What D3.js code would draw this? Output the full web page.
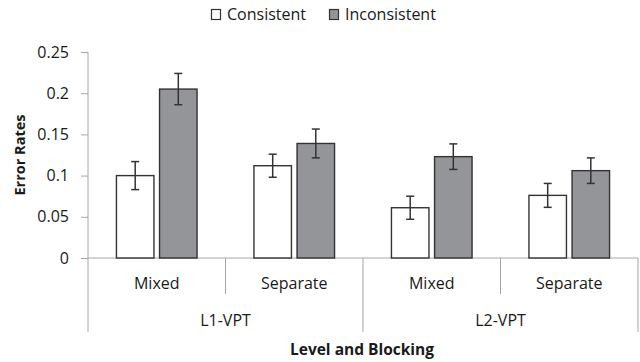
<!DOCTYPE html>
<html>
<head>
<meta charset="utf-8">
<script src="https://cdn.jsdelivr.net/npm/d3@7"></script>
<style>
  body { margin: 0; background: #fff; }
  text { font-family: "Open Sans", sans-serif; fill: #1a1a1a; }
</style>
</head>
<body>
<svg id="chart"></svg>
<script>
// Data

const levels = ["L1-VPT", "L2-VPT"];
const blockings = ["Mixed", "Separate"];
const series = ["Consistent", "Inconsistent"];

// values in order L1-Mixed, L1-Separate, L2-Mixed, L2-Separate
const consistentValues = [0.100, 0.112, 0.061, 0.076];
const inconsistentValues = [0.205, 0.139, 0.123, 0.106];
const consistentErrors = [0.017, 0.014, 0.014, 0.0145];
const inconsistentErrors = [0.019, 0.0175, 0.0155, 0.0155];

const yTicks = [0, 0.05, 0.1, 0.15, 0.2, 0.25];
const yTickLabels = ["0", "0.05", "0.1", "0.15", "0.2", "0.25"];

const seriesColor = { Consistent: "#ffffff", Inconsistent: "#939598" };

// Frame

const width = 640;
const height = 362;
const margin = { top: 52, left: 88, right: 2, bottom: 104 };
const axisColor = "#a6a6a6";
const inkColor = "#333333";

const svg = d3.select("#chart")
  .attr("width", width)
  .attr("height", height);

// Build the rows

const cells = [];
levels.forEach((lv, i) => {
  blockings.forEach((bl, j) => {
    const k = i * blockings.length + j;
    cells.push({
      key: lv + "|" + bl, level: lv, blocking: bl,
      values: [
        { s: "Consistent", v: consistentValues[k], e: consistentErrors[k] },
        { s: "Inconsistent", v: inconsistentValues[k], e: inconsistentErrors[k] }
      ]
    });
  });
});

// Scales

const x0 = d3.scaleBand()
  .domain(cells.map(d => d.key))
  .range([margin.left, width - margin.right])
  .padding(0);

const x1 = d3.scaleBand()
  .domain(series)
  .range([0, x0.bandwidth()])
  .paddingInner(0.13)
  .paddingOuter(0.66);

const xLevel = d3.scaleBand()
  .domain(levels)
  .range([margin.left, width - margin.right]);

const y = d3.scaleLinear()
  .domain([0, 0.25])
  .range([height - margin.bottom, margin.top]);

const y0 = y(0);

// Y axis

const yAxis = d3.axisLeft(y)
  .tickValues(yTicks)
  .tickFormat((d, i) => yTickLabels[i])
  .tickSize(7)
  .tickPadding(12);

const gy = svg.append("g")
  .attr("transform", "translate(" + margin.left + ",0)")
  .call(yAxis);

gy.select(".domain").remove();
gy.selectAll(".tick line").attr("stroke", axisColor);
gy.selectAll(".tick text")
  .style("font-family", "'Open Sans', sans-serif")
  .style("font-size", "16px")
  .attr("fill", "#1a1a1a");

// left axis line, running down through the category rows
svg.append("line")
  .attr("x1", margin.left).attr("x2", margin.left)
  .attr("y1", y(0.25)).attr("y2", y0 + 74)
  .attr("stroke", axisColor);

// baseline
svg.append("line")
  .attr("x1", margin.left).attr("x2", width - margin.right)
  .attr("y1", y0).attr("y2", y0)
  .attr("stroke", axisColor);

// Category dividers

cells.forEach((d, i) => {
  const xr = x0(d.key) + x0.bandwidth();
  const isGroupEnd = (i % blockings.length) === blockings.length - 1;
  svg.append("line")
    .attr("x1", xr).attr("x2", xr)
    .attr("y1", y0).attr("y2", isGroupEnd ? y0 + 74 : y0 + 36)
    .attr("stroke", axisColor);
});

// Bars

const groups = svg.append("g").selectAll("g")
  .data(cells)
  .enter()
  .append("g")
  .attr("transform", d => "translate(" + x0(d.key) + ",0)");

groups.selectAll("rect")
  .data(d => d.values)
  .enter()
  .append("rect")
  .attr("x", d => x1(d.s))
  .attr("y", d => y(d.v))
  .attr("width", x1.bandwidth())
  .attr("height", d => y0 - y(d.v))
  .attr("fill", d => seriesColor[d.s])
  .attr("stroke", inkColor)
  .attr("stroke-width", 1.4);

// Error bars

const err = groups.selectAll("g.err")
  .data(d => d.values)
  .enter()
  .append("g")
  .attr("class", "err")
  .attr("stroke", inkColor)
  .attr("stroke-width", 1.5);

err.append("line")
  .attr("x1", d => x1(d.s) + x1.bandwidth() / 2)
  .attr("x2", d => x1(d.s) + x1.bandwidth() / 2)
  .attr("y1", d => y(d.v + d.e))
  .attr("y2", d => y(d.v - d.e));

[1, -1].forEach(sign => {
  err.append("line")
    .attr("x1", d => x1(d.s) + x1.bandwidth() / 2 - 4)
    .attr("x2", d => x1(d.s) + x1.bandwidth() / 2 + 4)
    .attr("y1", d => y(d.v + sign * d.e))
    .attr("y2", d => y(d.v + sign * d.e));
});

// Category labels

svg.append("g").selectAll("text")
  .data(cells)
  .enter()
  .append("text")
  .attr("x", d => x0(d.key) + x0.bandwidth() / 2)
  .attr("y", y0 + 31)
  .attr("text-anchor", "middle")
  .style("font-size", "16px")
  .text(d => d.blocking);

svg.append("g").selectAll("text")
  .data(levels)
  .enter()
  .append("text")
  .attr("x", d => xLevel(d) + xLevel.bandwidth() / 2)
  .attr("y", y0 + 68)
  .attr("text-anchor", "middle")
  .style("font-size", "16px")
  .text(d => d);

// Axis titles

svg.append("text")
  .attr("x", 362)
  .attr("y", 355)
  .attr("text-anchor", "middle")
  .style("font-size", "15.5px")
  .style("font-weight", "bold")
  .text("Level and Blocking");

svg.append("text")
  .attr("transform", "translate(25,155) rotate(-90)")
  .attr("text-anchor", "middle")
  .style("font-size", "14.5px")
  .style("font-weight", "bold")
  .text("Error Rates");

// Legend

const legendX = [211, 329];
const legend = svg.append("g").selectAll("g")
  .data(series)
  .enter()
  .append("g")
  .attr("transform", (d, i) => "translate(" + legendX[i] + ",0)");

legend.append("rect")
  .attr("x", 0.5).attr("y", 9.5)
  .attr("width", 9).attr("height", 10)
  .attr("fill", d => seriesColor[d])
  .attr("stroke", inkColor)
  .attr("stroke-width", 1.2);

legend.append("text")
  .attr("x", 16)
  .attr("y", 20)
  .style("font-size", "16px")
  .text(d => d);
</script>
</body>
</html>
